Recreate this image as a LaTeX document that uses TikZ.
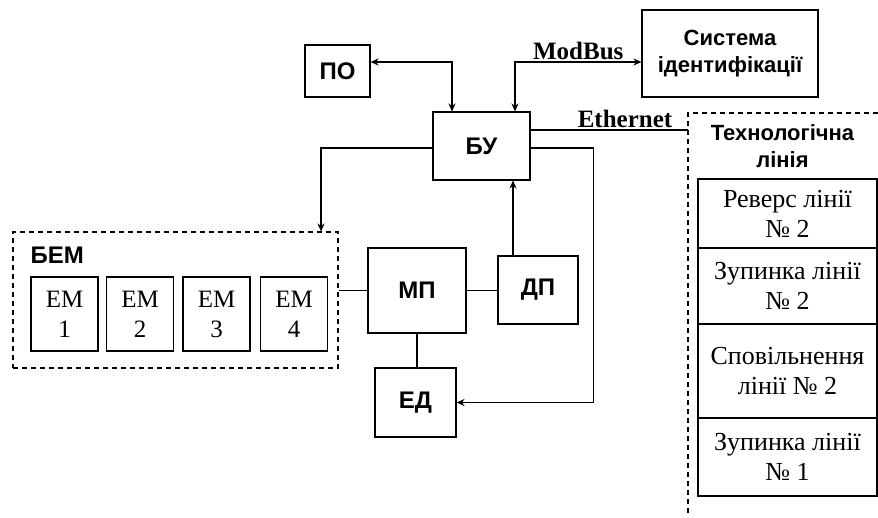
\documentclass[tikz,border=0pt]{standalone}
\usepackage{fontspec}
\setmainfont{Liberation Serif}
\setsansfont{Liberation Sans}
\usetikzlibrary{arrows.meta,positioning,calc}

\begin{document}
\begin{tikzpicture}[x=1pt,y=-1pt,>={Stealth[length=8pt,width=7pt]},line width=1.1pt,
  blk/.style={draw,align=center,inner sep=0pt,font=\sffamily\bfseries\fontsize{24}{29}\selectfont},
  blksm/.style={blk,font=\sffamily\bfseries\fontsize{22}{27}\selectfont},
  emblk/.style={draw,align=center,inner sep=0pt,minimum width=67pt,minimum height=74pt,font=\fontsize{25}{30}\selectfont},
  linblk/.style={draw,align=center,inner sep=0pt,minimum width=179pt,font=\fontsize{26}{30}\selectfont},
  buslab/.style={font=\bfseries\fontsize{25}{30}\selectfont,inner sep=2pt},
  dsh/.style={dash pattern=on 5pt off 4pt}]
  \useasboundingbox (0,0) rectangle (878,517);
  \node[blk,minimum width=65pt,minimum height=52pt] (po) at (337.5,71) {ПО};
  \node[blksm,minimum width=176pt,minimum height=87pt] (sys) at (730,53.5) {Система\\ідентифікації};
  \node[blk,minimum width=97pt,minimum height=68pt] (bu) at (481.5,146) {БУ};
  \node[draw,dsh,minimum width=325pt,minimum height=136pt] (bem) at (175.5,300) {};
  \node[blk,draw=none,anchor=west] (bemlab) at (30,255) {БЕМ};
  \foreach \i/\cx in {1/64.5,2/140,3/216.5,4/294}
     \node[emblk] (em\i) at (\cx,314) {ЕМ\\\i};
  \node[blk,minimum width=98pt,minimum height=85pt] (mp) at (417,290.5) {МП};
  \node[blk,minimum width=80pt,minimum height=68pt] (dp) at (538,290) {ДП};
  \node[blk,minimum width=81pt,minimum height=69pt] (ed) at (415.5,402.5) {ЕД};
  \coordinate (tl) at (688,113);
  \draw[dsh] (878,113) -- (tl) -- (688,517);
  \node[blksm,draw=none] (techlab) at (782.5,146.5) {Технологічна\\лінія};
  \foreach \nm/\cy/\h/\txt in {rev/213.5/69/{Реверс лінії\\№ 2},st2/286/76/{Зупинка лінії\\№ 2},slow/371/94/{Сповільнення\\лінії № 2},st1/457/78/{Зупинка лінії\\№ 1}}
     \node[linblk,minimum height=\h pt] (\nm) at (787.5,\cy) {\txt};
  \draw[<->] ([yshift=9pt]po.east) -| ([xshift=-29.5pt]bu.north);
  \draw[<->] ([xshift=33.5pt]bu.north) |- ([yshift=-8.5pt]sys.west) node[buslab,pos=0.75,above]{ModBus};
  \draw ([yshift=16pt]bu.east) -- ([yshift=16pt]bu.east -| tl) node[buslab,pos=0.6,above]{Ethernet};
  \draw[->] ([yshift=-2pt]bu.west) -| ([xshift=145.5pt]bem.north);
  \draw[->] ([yshift=-2pt]bu.east) -- ++(63,0) |- (ed.east);
  \draw[->] ([xshift=-25pt]dp.north) -- ([xshift=-25pt]dp.north |- bu.south);
  \draw (mp.west) -- (mp.west -| bem.east);
  \draw (mp.east) -- (mp.east -| dp.west);
  \draw (mp.south) -- (mp.south |- ed.north);
\end{tikzpicture}
\end{document}
